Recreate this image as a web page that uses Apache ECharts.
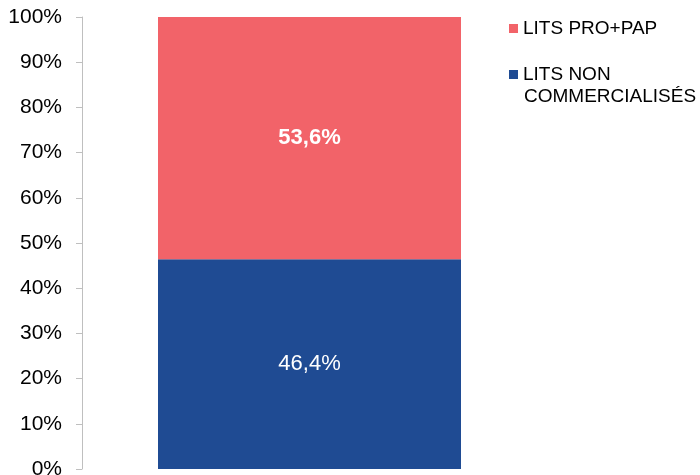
<!DOCTYPE html>
<html>
<head>
<meta charset="utf-8">
<script src="https://cdn.jsdelivr.net/npm/echarts@6/dist/echarts.min.js"></script>
<style>
    html, body { margin: 0; padding: 0; background: #fff; }
    #main { width: 700px; height: 475px; }
</style>
</head>
<body>
<div id="main"></div>
<script>
var categories = [''];
var seriesNames = ['LITS NON COMMERCIALISÉS', 'LITS PRO+PAP'];
var nonCommValues = [46.4];
var proPapValues = [53.6];
var yTicks = [0, 10, 20, 30, 40, 50, 60, 70, 80, 90, 100];

var myChart = echarts.init(document.getElementById('main'));

function fmtPct(v) {
    return v.toFixed(1).replace('.', ',') + '%';
}

var legendText = { fontSize: 19, color: '#000', lineHeight: 21 };

var option = {
    animation: false,
    textStyle: { fontFamily: 'Liberation Sans' },
    grid: { left: 82, right: 163, top: 17, bottom: 6, outerBoundsMode: 'none', containLabel: false },
    legend: [{
        left: 509,
        top: 18,
        padding: 0,
        itemWidth: 9,
        itemHeight: 9,
        icon: 'rect',
        data: [seriesNames[1]],
        textStyle: legendText
    }, {
        left: 509,
        top: 64,
        padding: 0,
        itemWidth: 9,
        itemHeight: 9,
        icon: 'rect',
        data: [seriesNames[0]],
        // second line is drawn below as graphic so the square stays on line one
        formatter: function (name) {
            return 'LITS NON';
        },
        textStyle: legendText
    }],
    graphic: [{
        type: 'text',
        left: 524,
        top: 87,
        style: {
            text: 'COMMERCIALISÉS',
            fontSize: 19,
            fontFamily: 'Liberation Sans',
            fill: '#000'
        }
    }],
    xAxis: {
        type: 'category',
        data: categories,
        show: false
    },
    yAxis: {
        type: 'value',
        min: yTicks[0],
        max: yTicks[yTicks.length - 1],
        interval: 10,
        axisLine: { show: true, lineStyle: { color: '#BFBFBF', width: 1 } },
        axisTick: { show: true, length: 6, lineStyle: { color: '#BFBFBF' } },
        splitLine: { show: false },
        axisLabel: {
            margin: 20,
            fontSize: 21,
            color: '#000',
            formatter: '{value}%'
        }
    },
    series: [{
        name: seriesNames[0],
        type: 'bar',
        stack: 'total',
        barWidth: 303,
        data: nonCommValues,
        itemStyle: { color: '#1F4B93' },
        label: {
            show: true,
            position: 'inside',
            color: '#fff',
            fontSize: 22,
            formatter: function (p) { return fmtPct(p.value); }
        }
    }, {
        name: seriesNames[1],
        type: 'bar',
        stack: 'total',
        barWidth: 303,
        data: proPapValues,
        itemStyle: { color: '#F26369' },
        label: {
            show: true,
            position: 'inside',
            color: '#fff',
            fontSize: 22,
            fontWeight: 'bold',
            formatter: function (p) { return fmtPct(p.value); }
        }
    }]
};
myChart.setOption(option);
</script>
</body>
</html>
